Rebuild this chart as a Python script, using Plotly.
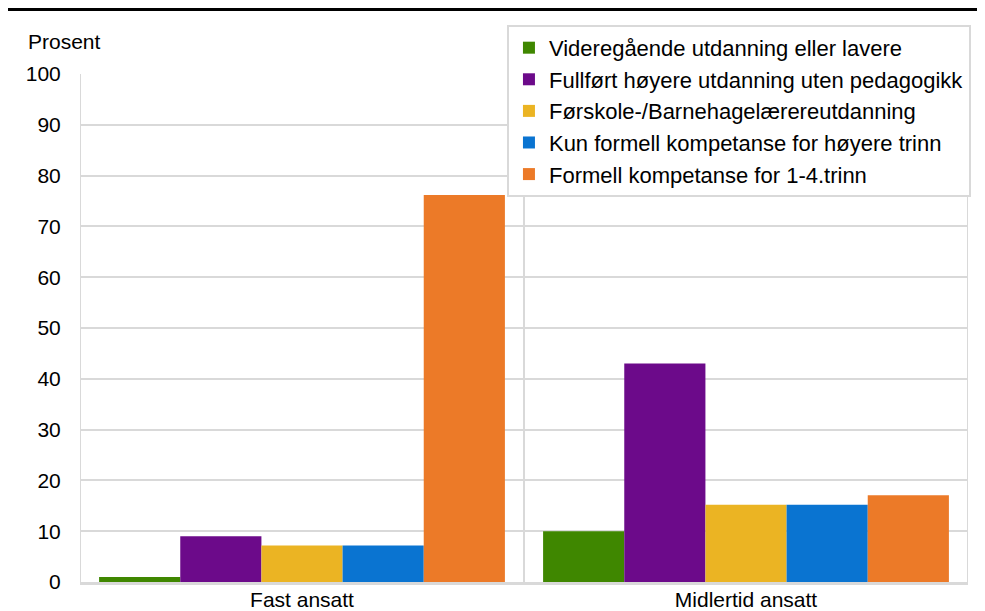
import plotly.graph_objects as go

categories = ["Fast ansatt", "Midlertid ansatt"]
series_names = [
    "Videregående utdanning eller lavere",
    "Fullført høyere utdanning uten pedagogikk",
    "Førskole-/Barnehagelærereutdanning",
    "Kun formell kompetanse for høyere trinn",
    "Formell kompetanse for 1-4.trinn",
]
vals_vgs = [1.0, 10.0]
vals_hoyere = [9.0, 43.0]
vals_forskole = [7.2, 15.2]
vals_kun_hoyere = [7.2, 15.2]
vals_1_4 = [76.2, 17.1]
series_values = [vals_vgs, vals_hoyere, vals_forskole, vals_kun_hoyere, vals_1_4]
colors = ["#3f8700", "#6c0a8a", "#ebb423", "#0a74d1", "#ec7a28"]
y_ticks = list(range(0, 101, 10))

fig = go.Figure()
for i, (name, vals, col) in enumerate(zip(series_names, series_values, colors)):
    fig.add_trace(go.Bar(x=categories, y=vals, name=name, marker_color=col,
                         marker_line_width=0, legendgroup=f"g{i}"))

FONT = "Liberation Sans, Arial, sans-serif"
grid = "#d9d9d9"
shapes = []
for xv in [-0.5, 0.5, 1.5]:
    shapes.append(dict(type="line", xref="x", yref="paper", x0=xv, x1=xv, y0=0, y1=1,
                       line=dict(color=grid, width=2), layer="below"))
shapes.append(dict(type="line", xref="paper", yref="paper", x0=-0.1, x1=1.1,
                   y0=1.128, y1=1.128, line=dict(color="black", width=4)))

fig.update_layout(
    width=977, height=603,
    margin=dict(l=72, r=17, t=66, b=29, autoexpand=False),
    paper_bgcolor="white", plot_bgcolor="white",
    font=dict(family=FONT, size=21, color="black"),
    barmode="group", bargap=0.086, bargroupgap=0,
    xaxis=dict(range=[-0.5, 1.5], showgrid=False, showline=True, linecolor=grid,
               linewidth=3, ticks="", tickfont=dict(size=21), automargin=False,
               ticklabelstandoff=-3),
    yaxis=dict(range=[0, 100], tickvals=y_ticks, showgrid=True, gridcolor=grid,
               gridwidth=2, zeroline=False, showline=False, ticks="outside",
               ticklen=14, tickcolor="rgba(0,0,0,0)", tickfont=dict(size=21),
               automargin=False),
    legend=dict(xref="container", yref="container", x=0.5107, y=0.972,
                xanchor="left", yanchor="top",
                bgcolor="white", bordercolor="#d9d9d9", borderwidth=2,
                font=dict(size=22), tracegroupgap=0, itemwidth=30),
    showlegend=True,
    shapes=shapes,
    annotations=[dict(text="Prosent", xref="paper", yref="paper", x=-0.061, y=1.063,
                      xanchor="left", yanchor="middle", showarrow=False,
                      font=dict(size=21))],
)

fig.write_html("out.html")
